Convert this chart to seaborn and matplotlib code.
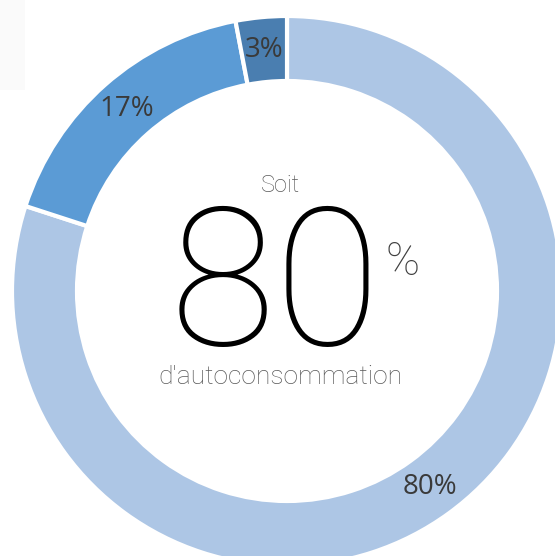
import matplotlib
matplotlib.use("Agg")
import matplotlib.pyplot as plt
from matplotlib.patches import Rectangle
import seaborn as sns

# Data
categories = ["Autoconsommation", "Part B", "Part C"]
values = [80, 17, 3]
colors = ["#adc6e5", "#5b9bd5", "#4a7eb0"]
center_small = "Soit"
center_big = "80"
center_pct = "%"
center_caption = "d'autoconsommation"

sns.set_theme(style="white")
plt.rcParams["font.family"] = ["Open Sans", "DejaVu Sans"]

W, H = 555, 556
fig = plt.figure(figsize=(W / 100, H / 100), dpi=100)
fig.patch.set_facecolor("white")
fig.patches.append(Rectangle((0, 1 - 90 / H), 25 / W, 90 / H, transform=fig.transFigure,
                             facecolor="#fafafa", edgecolor="none", zorder=0))
ax = fig.add_axes([0, 0, 1, 1])
ax.set_facecolor("none")

cx, cy = 287, H - 291
R, ring = 275, 65

wedges, texts, autotexts = ax.pie(
    values, colors=colors, startangle=90, counterclock=False,
    radius=R, center=(cx, cy),
    wedgeprops=dict(width=ring, edgecolor="white", linewidth=3),
    autopct="%.0f%%", pctdistance=(R - ring / 2) / R,
    textprops=dict(color="#3a3a3a", fontsize=20),
)
ax.set_xlim(0, W)
ax.set_ylim(0, H)
ax.set_aspect("equal", adjustable="datalim")
ax.axis("off")

ax.text(cx - 7, cy + 105, center_small, ha="center", va="center", fontsize=17,
        color="#595959", family=["Roboto", "DejaVu Sans"], fontweight="light")
ax.text(cx - 12, cy - 1, center_big, ha="center", va="center", fontsize=139,
        color="black", family=["Roboto", "DejaVu Sans"], fontweight=100)
ax.text(cx + 116, cy + 29, center_pct, ha="center", va="center", fontsize=33,
        color="#404040", family=["Roboto", "DejaVu Sans"], fontweight="light")
ax.text(cx - 7, cy - 86, center_caption, ha="center", va="center", fontsize=19,
        color="#595959", family=["Roboto", "DejaVu Sans"], fontweight="light")

fig.savefig("out.png", dpi=100)
